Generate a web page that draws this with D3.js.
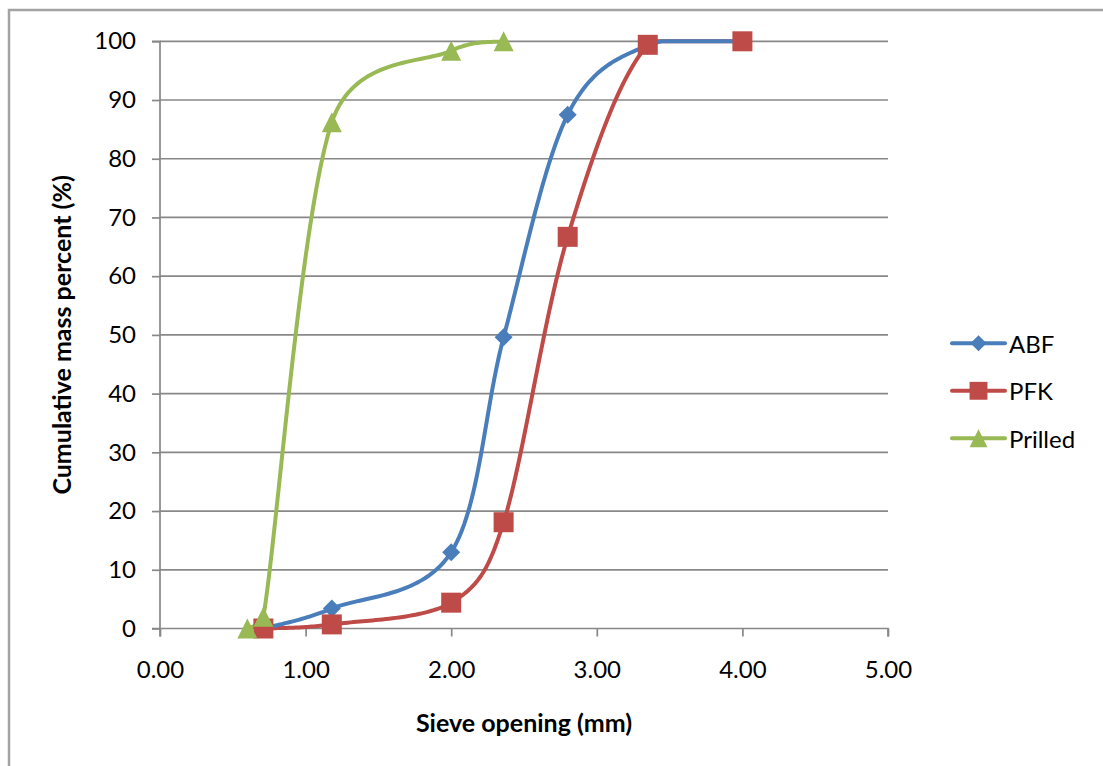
<!DOCTYPE html>
<html>
<head>
<meta charset="utf-8">
<script src="https://cdn.jsdelivr.net/npm/d3@7"></script>
<style>
  body { margin: 0; background: #fff; }
  svg { display: block; }
</style>
</head>
<body>
<div id="chart"></div>
<script>
// sieve openings (mm) and cumulative mass percent
const abfX = [0.71, 1.18, 2.00, 2.36, 2.80, 3.35, 4.00];
const abfY = [0, 3.4, 13.0, 49.6, 87.5, 99.3, 100];
const pfkX = [0.71, 1.18, 2.00, 2.36, 2.80, 3.35, 4.00];
const pfkY = [0, 0.7, 4.4, 18.1, 66.7, 99.4, 100];
const prilledX = [0.60, 0.71, 1.18, 2.00, 2.36];
const prilledY = [0, 2.0, 86.2, 98.4, 100];

const seriesNames = ["ABF", "PFK", "Prilled"];
const xTicks = [0, 1, 2, 3, 4, 5];
const yTicks = [0, 10, 20, 30, 40, 50, 60, 70, 80, 90, 100];

const size = {
  width: 1103,
  height: 766,
  left: 160,
  right: 888,
  top: 41.3,
  bottom: 628.5
};

const colours = {
  ABF: "#4a7ebb",
  PFK: "#be4b48",
  Prilled: "#98b954",
  grid: "#888888",
  frame: "#a3a3a3",
  text: "#000000"
};

const font = "Lato, 'Open Sans', sans-serif";

// Excel-like marker shapes: diamond is a turned square, triangle is as tall as wide
const diamond = {
  draw(context, area) {
    const r = Math.sqrt(area) / 2;
    context.moveTo(0, -r); context.lineTo(r, 0); context.lineTo(0, r); context.lineTo(-r, 0); context.closePath();
  }
};
const triangle = {
  draw(context, area) {
    const r = Math.sqrt(area) / 2;
    context.moveTo(0, -r); context.lineTo(r, r); context.lineTo(-r, r); context.closePath();
  }
};

const series = [
  { name: "ABF", symbol: diamond, markSize: 18 * 18, pts: abfX.map((x, i) => [x, abfY[i]]) },
  { name: "PFK", symbol: d3.symbolSquare, markSize: 20 * 20, pts: pfkX.map((x, i) => [x, pfkY[i]]) },
  { name: "Prilled", symbol: triangle, markSize: 20 * 20, pts: prilledX.map((x, i) => [x, prilledY[i]]) }
];

const scale = {
  x: d3.scaleLinear().domain([0, 5]).range([size.left, size.right]),
  y: d3.scaleLinear().domain([0, 100]).range([size.bottom, size.top])
};

// Excel style smoothed line: bezier arms of 1/6, limited to half the segment,
// flattened and clamped to the plot area like Excel does
function excelSmooth(box) {
  return function(context) {
    let pts;
    const clamp = p => [
      Math.max(box.x0, Math.min(box.x1, p[0])),
      Math.max(box.y0, Math.min(box.y1, p[1]))
    ];
    return {
      areaStart() {}, areaEnd() {},
      lineStart() { pts = []; },
      point(x, y) { pts.push([+x, +y]); },
      lineEnd() {
        const n = pts.length;
        if (!n) return;
        const dist = (a, b) => Math.hypot(b[0] - a[0], b[1] - a[1]);
        context.moveTo(...clamp(pts[0]));
        for (let i = 0; i < n - 1; i++) {
          const p0 = pts[Math.max(i - 1, 0)], p1 = pts[i], p2 = pts[i + 1], p3 = pts[Math.min(i + 2, n - 1)];
          const d12 = dist(p1, p2), d02 = dist(p0, p2), d13 = dist(p1, p3);
          let f0 = 1 / 6, f1 = 1 / 6;
          if (d02 / 6 >= d12 / 2 && d02 > 0) f0 = d12 / d02 / 2;
          if (d13 / 6 >= d12 / 2 && d13 > 0) f1 = d12 / d13 / 2;
          const b1 = [p1[0] + f0 * (p2[0] - p0[0]), p1[1] + f0 * (p2[1] - p0[1])];
          const b2 = [p2[0] - f1 * (p3[0] - p1[0]), p2[1] - f1 * (p3[1] - p1[1])];
          const steps = 40;
          for (let k = 1; k <= steps; k++) {
            const t = k / steps, u = 1 - t;
            const q = [
              u * u * u * p1[0] + 3 * u * u * t * b1[0] + 3 * u * t * t * b2[0] + t * t * t * p2[0],
              u * u * u * p1[1] + 3 * u * u * t * b1[1] + 3 * u * t * t * b2[1] + t * t * t * p2[1]
            ];
            context.lineTo(...clamp(q));
          }
        }
      }
    };
  };
}

function draw() {
  const svg = d3.select("#chart").append("svg")
    .attr("width", size.width)
    .attr("height", size.height);

  svg.append("rect")
    .attr("width", size.width).attr("height", size.height)
    .attr("fill", "#fff");

  // outer chart frame (runs off the right and bottom edge)
  svg.append("rect")
    .attr("x", 9).attr("y", 10)
    .attr("width", size.width + 20).attr("height", size.height + 20)
    .attr("fill", "none")
    .attr("stroke", colours.frame)
    .attr("stroke-width", 2.5);

  // gridlines
  svg.append("g")
    .selectAll("line")
    .data(yTicks.filter(d => d > 0))
    .join("line")
    .attr("x1", size.left).attr("x2", size.right)
    .attr("y1", d => scale.y(d)).attr("y2", d => scale.y(d))
    .attr("stroke", colours.grid)
    .attr("stroke-width", 1.7);

  const yAxis = d3.axisLeft(scale.y).tickValues(yTicks).tickSize(8).tickPadding(16).tickFormat(d3.format("d"));
  const xAxis = d3.axisBottom(scale.x).tickValues(xTicks).tickSize(8).tickPadding(24).tickFormat(d3.format(".2f"));

  const gy = svg.append("g")
    .attr("transform", `translate(${size.left},0)`)
    .call(yAxis);
  const gx = svg.append("g")
    .attr("transform", `translate(0,${size.bottom})`)
    .call(xAxis);

  [gx, gy].forEach(g => {
    g.select(".domain").attr("stroke", colours.grid).attr("stroke-width", 1.7);
    g.selectAll(".tick line").attr("stroke", colours.grid).attr("stroke-width", 1.7);
    g.selectAll("text")
      .style("font-family", font)
      .style("font-size", "24px")
      .style("fill", colours.text);
  });
  gy.select(".domain").attr("d", `M-8,${size.top}H0V${size.bottom}H-8`);
  gx.select(".domain").attr("d", `M${size.left},8V0H${size.right}V8`);

  // axis titles
  svg.append("text")
    .attr("x", (size.left + size.right) / 2)
    .attr("y", 722)
    .attr("text-anchor", "middle")
    .attr("dominant-baseline", "central")
    .style("font-family", font)
    .style("font-weight", "bold")
    .style("font-size", "25px")
    .text("Sieve opening (mm)");

  svg.append("text")
    .attr("transform", `translate(61,${(size.top + size.bottom) / 2}) rotate(-90)`)
    .attr("text-anchor", "middle")
    .attr("dominant-baseline", "central")
    .style("font-family", font)
    .style("font-weight", "bold")
    .style("font-size", "25px")
    .text("Cumulative mass percent (%)");

  const line = d3.line()
    .x(d => scale.x(d[0]))
    .y(d => scale.y(d[1]))
    .curve(excelSmooth({ x0: size.left, x1: size.right, y0: size.top, y1: size.bottom }));

  // lines (last series underneath), then markers
  [...series].reverse().forEach(s => {
    svg.append("path")
      .datum(s.pts)
      .attr("d", line)
      .attr("fill", "none")
      .attr("stroke", colours[s.name])
      .attr("stroke-width", 4)
      .attr("stroke-linejoin", "round");
  });

  series.forEach(s => {
    svg.append("g")
      .selectAll("path")
      .data(s.pts)
      .join("path")
      .attr("transform", d => `translate(${scale.x(d[0])},${scale.y(d[1])})`)
      .attr("d", d3.symbol().type(s.symbol).size(s.markSize))
      .attr("fill", colours[s.name]);
  });

  // legend
  const legendY = d3.scalePoint().domain(seriesNames).range([343.3, 438.3]);
  const legend = svg.append("g")
    .selectAll("g")
    .data(series)
    .join("g")
    .attr("transform", d => `translate(952,${legendY(d.name)})`);

  legend.append("line")
    .attr("x1", 0).attr("x2", 53)
    .attr("stroke", d => colours[d.name])
    .attr("stroke-width", 4)
    .attr("stroke-linecap", "round");
  legend.append("path")
    .attr("transform", "translate(26.5,0)")
    .attr("d", d => d3.symbol().type(d.symbol).size(d.markSize * 0.8)())
    .attr("fill", d => colours[d.name]);
  legend.append("text")
    .attr("x", 57)
    .attr("dominant-baseline", "central")
    .style("font-family", font)
    .style("font-size", "24px")
    .text(d => d.name);
}

draw();
</script>
</body>
</html>
